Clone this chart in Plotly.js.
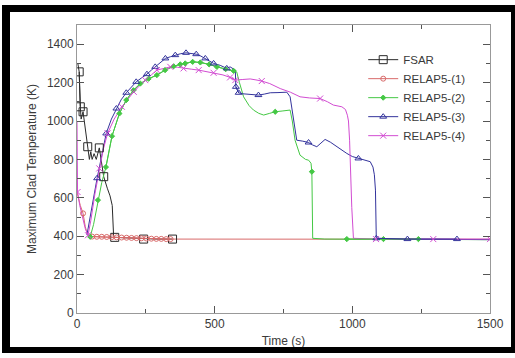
<!DOCTYPE html>
<html>
<head>
<meta charset="utf-8">
<script src="https://cdn.plot.ly/plotly-3.0.1.min.js"></script>
<style>
  html, body { margin:0; padding:0; background:#fff; }
  #wrap { position:relative; width:515px; height:358px; overflow:hidden; }
  #chart { position:absolute; left:0; top:0; width:515px; height:358px; }
  #frame { position:absolute; left:2px; top:5px; width:513px; height:348px; box-sizing:border-box;
           border-style:solid; border-color:#000; border-width:7px 4px 6px 8px; pointer-events:none; }
</style>
</head>
<body>
<div id="wrap"><div id="chart"></div><div id="frame"></div></div>
<script>
// ---- data ----
const fsarT = [3, 8, 12, 15, 22, 28, 39, 45, 50, 55, 62, 70, 81, 90, 97, 110, 120, 128, 133, 137, 170, 200, 242, 290, 347];
const fsarV = [1300, 1256, 1074, 1010, 1048, 990, 866, 800, 840, 800, 830, 800, 860, 770, 710, 650, 610, 560, 400, 394, 392, 388, 385, 385, 385];
const fsarMarkT = [8, 12, 22, 39, 81, 97, 137, 242, 347];

const r1T = [0, 5, 12, 22, 30, 38, 45, 55, 72, 90, 108, 126, 144, 162, 180, 198, 216, 234, 252, 270, 288, 306, 324, 340, 500, 800, 1100, 1500];
const r1V = [630, 600, 560, 519, 450, 409, 400, 398, 397, 397, 396, 395, 394, 393, 392, 391, 390, 389, 388, 387, 386, 386, 385, 385, 385, 385, 385, 384];
const r1MarkT = [22, 55, 72, 90, 108, 126, 144, 162, 180, 198, 216, 234, 252, 270, 288, 306, 324, 340];

const r2T = [38, 48, 60, 76, 90, 105, 127, 154, 179, 205, 230, 260, 290, 320, 351, 375, 393, 420, 448, 480, 508, 540, 569, 580, 590, 605, 625, 641, 660, 678, 700, 720, 745, 774, 782, 792, 810, 830, 841, 850, 853, 856, 900, 980, 1113, 1240, 1380, 1500];
const r2V = [409, 397, 460, 588, 680, 760, 921, 1039, 1109, 1160, 1195, 1220, 1239, 1265, 1285, 1295, 1300, 1308, 1305, 1295, 1282, 1270, 1261, 1256, 1200, 1126, 1080, 1057, 1040, 1031, 1040, 1048, 1052, 1057, 1000, 900, 822, 800, 796, 780, 736, 389, 385, 385, 385, 385, 385, 382];
const r2MarkT = [48, 76, 105, 127, 154, 179, 205, 230, 260, 290, 320, 351, 375, 393, 420, 448, 480, 508, 540, 569, 720, 853, 980, 1113, 1240];

const r3T = [36, 50, 73, 90, 106, 125, 143, 160, 179, 198, 215, 235, 254, 270, 284, 300, 321, 340, 357, 375, 396, 415, 433, 450, 466, 480, 496, 520, 544, 556, 568, 575, 577, 587, 600, 611, 635, 659, 680, 702, 730, 762, 774, 782, 798, 820, 841, 856, 871, 886, 901, 920, 944, 962, 980, 1000, 1022, 1045, 1065, 1075, 1080, 1084, 1087, 1200, 1380, 1500];
const r3V = [406, 520, 702, 820, 935, 1010, 1065, 1110, 1147, 1178, 1204, 1225, 1244, 1265, 1282, 1300, 1326, 1335, 1343, 1350, 1355, 1352, 1348, 1338, 1326, 1315, 1300, 1290, 1274, 1282, 1270, 1265, 1178, 1147, 1142, 1140, 1136, 1135, 1140, 1147, 1148, 1150, 1126, 1050, 900, 895, 888, 875, 866, 885, 904, 890, 866, 850, 831, 815, 805, 795, 788, 760, 720, 640, 389, 385, 385, 382];
const r3MarkT = [73, 106, 143, 179, 215, 254, 284, 321, 357, 396, 433, 466, 496, 544, 577, 587, 659, 841, 1022, 1087, 1200, 1380];

const r4T = [0, 2, 10, 20, 30, 40, 50, 65, 81, 95, 111, 135, 163, 185, 206, 228, 248, 270, 290, 315, 339, 365, 387, 415, 442, 470, 496, 530, 556, 575, 600, 629, 650, 671, 700, 738, 775, 810, 845, 883, 910, 931, 962, 975, 982, 986, 990, 994, 998, 1004, 1086, 1200, 1294, 1400, 1500];
const r4V = [1000, 630, 560, 500, 440, 405, 480, 620, 753, 850, 935, 1010, 1074, 1115, 1152, 1185, 1213, 1240, 1265, 1275, 1282, 1280, 1274, 1270, 1265, 1258, 1251, 1240, 1227, 1213, 1216, 1219, 1214, 1208, 1195, 1169, 1150, 1126, 1120, 1117, 1100, 1083, 1074, 1060, 1030, 1000, 900, 700, 550, 389, 385, 385, 385, 385, 385];
const r4MarkT = [2, 40, 81, 111, 163, 206, 248, 290, 339, 387, 442, 496, 556, 575, 671, 883, 1086, 1294, 1500];

const seriesNames = ['FSAR', 'RELAP5-(1)', 'RELAP5-(2)', 'RELAP5-(3)', 'RELAP5-(4)'];

// ---- styling ----
const series = [
  {t: fsarT, v: fsarV, m: fsarMarkT, color: '#2a2a2a', sym: 'square-open', size: 8},
  {t: r1T, v: r1V, m: r1MarkT, color: '#d86a6a', sym: 'circle-open', size: 5},
  {t: r2T, v: r2V, m: r2MarkT, color: '#44c844', sym: 'diamond', size: 4},
  {t: r3T, v: r3V, m: r3MarkT, color: '#33339c', sym: 'triangle-up-open', size: 6},
  {t: r4T, v: r4V, m: r4MarkT, color: '#d24cd2', sym: 'x-thin-open', size: 6}
];

const traces = [];
series.forEach(s => {
  traces.push({x: s.t, y: s.v, mode: 'lines', line: {color: s.color, width: 1}, showlegend: false, hoverinfo: 'skip'});
});
series.forEach((s, k) => {
  const masked = s.v.map((y, i) => s.m.includes(s.t[i]) ? y : null);
  traces.push({
    x: s.t, y: masked, mode: 'lines+markers', name: seriesNames[k], connectgaps: false,
    line: {color: s.color, width: 1},
    marker: {symbol: s.sym, size: s.size, color: s.color, line: {color: s.color, width: 1}}
  });
});

const tickFont = {family: 'Liberation Sans, Arial, sans-serif', size: 12, color: '#3a3a3a'};
const axisCommon = {
  showgrid: false, zeroline: false, showline: true, linecolor: '#999', linewidth: 1,
  mirror: 'ticks', ticks: 'inside', ticklen: 7, tickcolor: '#555', tickwidth: 1,
  tickfont: tickFont, automargin: false
};

const layout = {
  width: 515, height: 358,
  margin: {l: 77, r: 25, t: 25, b: 45},
  paper_bgcolor: '#fff', plot_bgcolor: '#fff',
  font: {family: 'Liberation Sans, Arial, sans-serif', color: '#3a3a3a'},
  xaxis: Object.assign({}, axisCommon, {
    range: [0, 1500], tick0: 0, dtick: 500,
    minor: {ticks: 'inside', dtick: 250, ticklen: 4, tickcolor: '#555'},
    title: {text: 'Time (s)', font: {size: 12, color: '#3a3a3a'}, standoff: 6}
  }),
  yaxis: Object.assign({}, axisCommon, {
    range: [0, 1500], tick0: 0, dtick: 200,
    minor: {ticks: 'inside', dtick: 100, ticklen: 4, tickcolor: '#555'},
    title: {text: 'Maximum Clad Temperature (K)', font: {size: 12, color: '#3a3a3a'}, standoff: 7}
  }),
  legend: {x: 0.693, y: 0.93, xanchor: 'left', yanchor: 'top', bgcolor: 'rgba(0,0,0,0)',
           font: {size: 11.5, color: '#3a3a3a'}, itemwidth: 30},
  showlegend: true
};

Plotly.newPlot('chart', traces, layout, {staticPlot: true, displayModeBar: false});
</script>
</body>
</html>
